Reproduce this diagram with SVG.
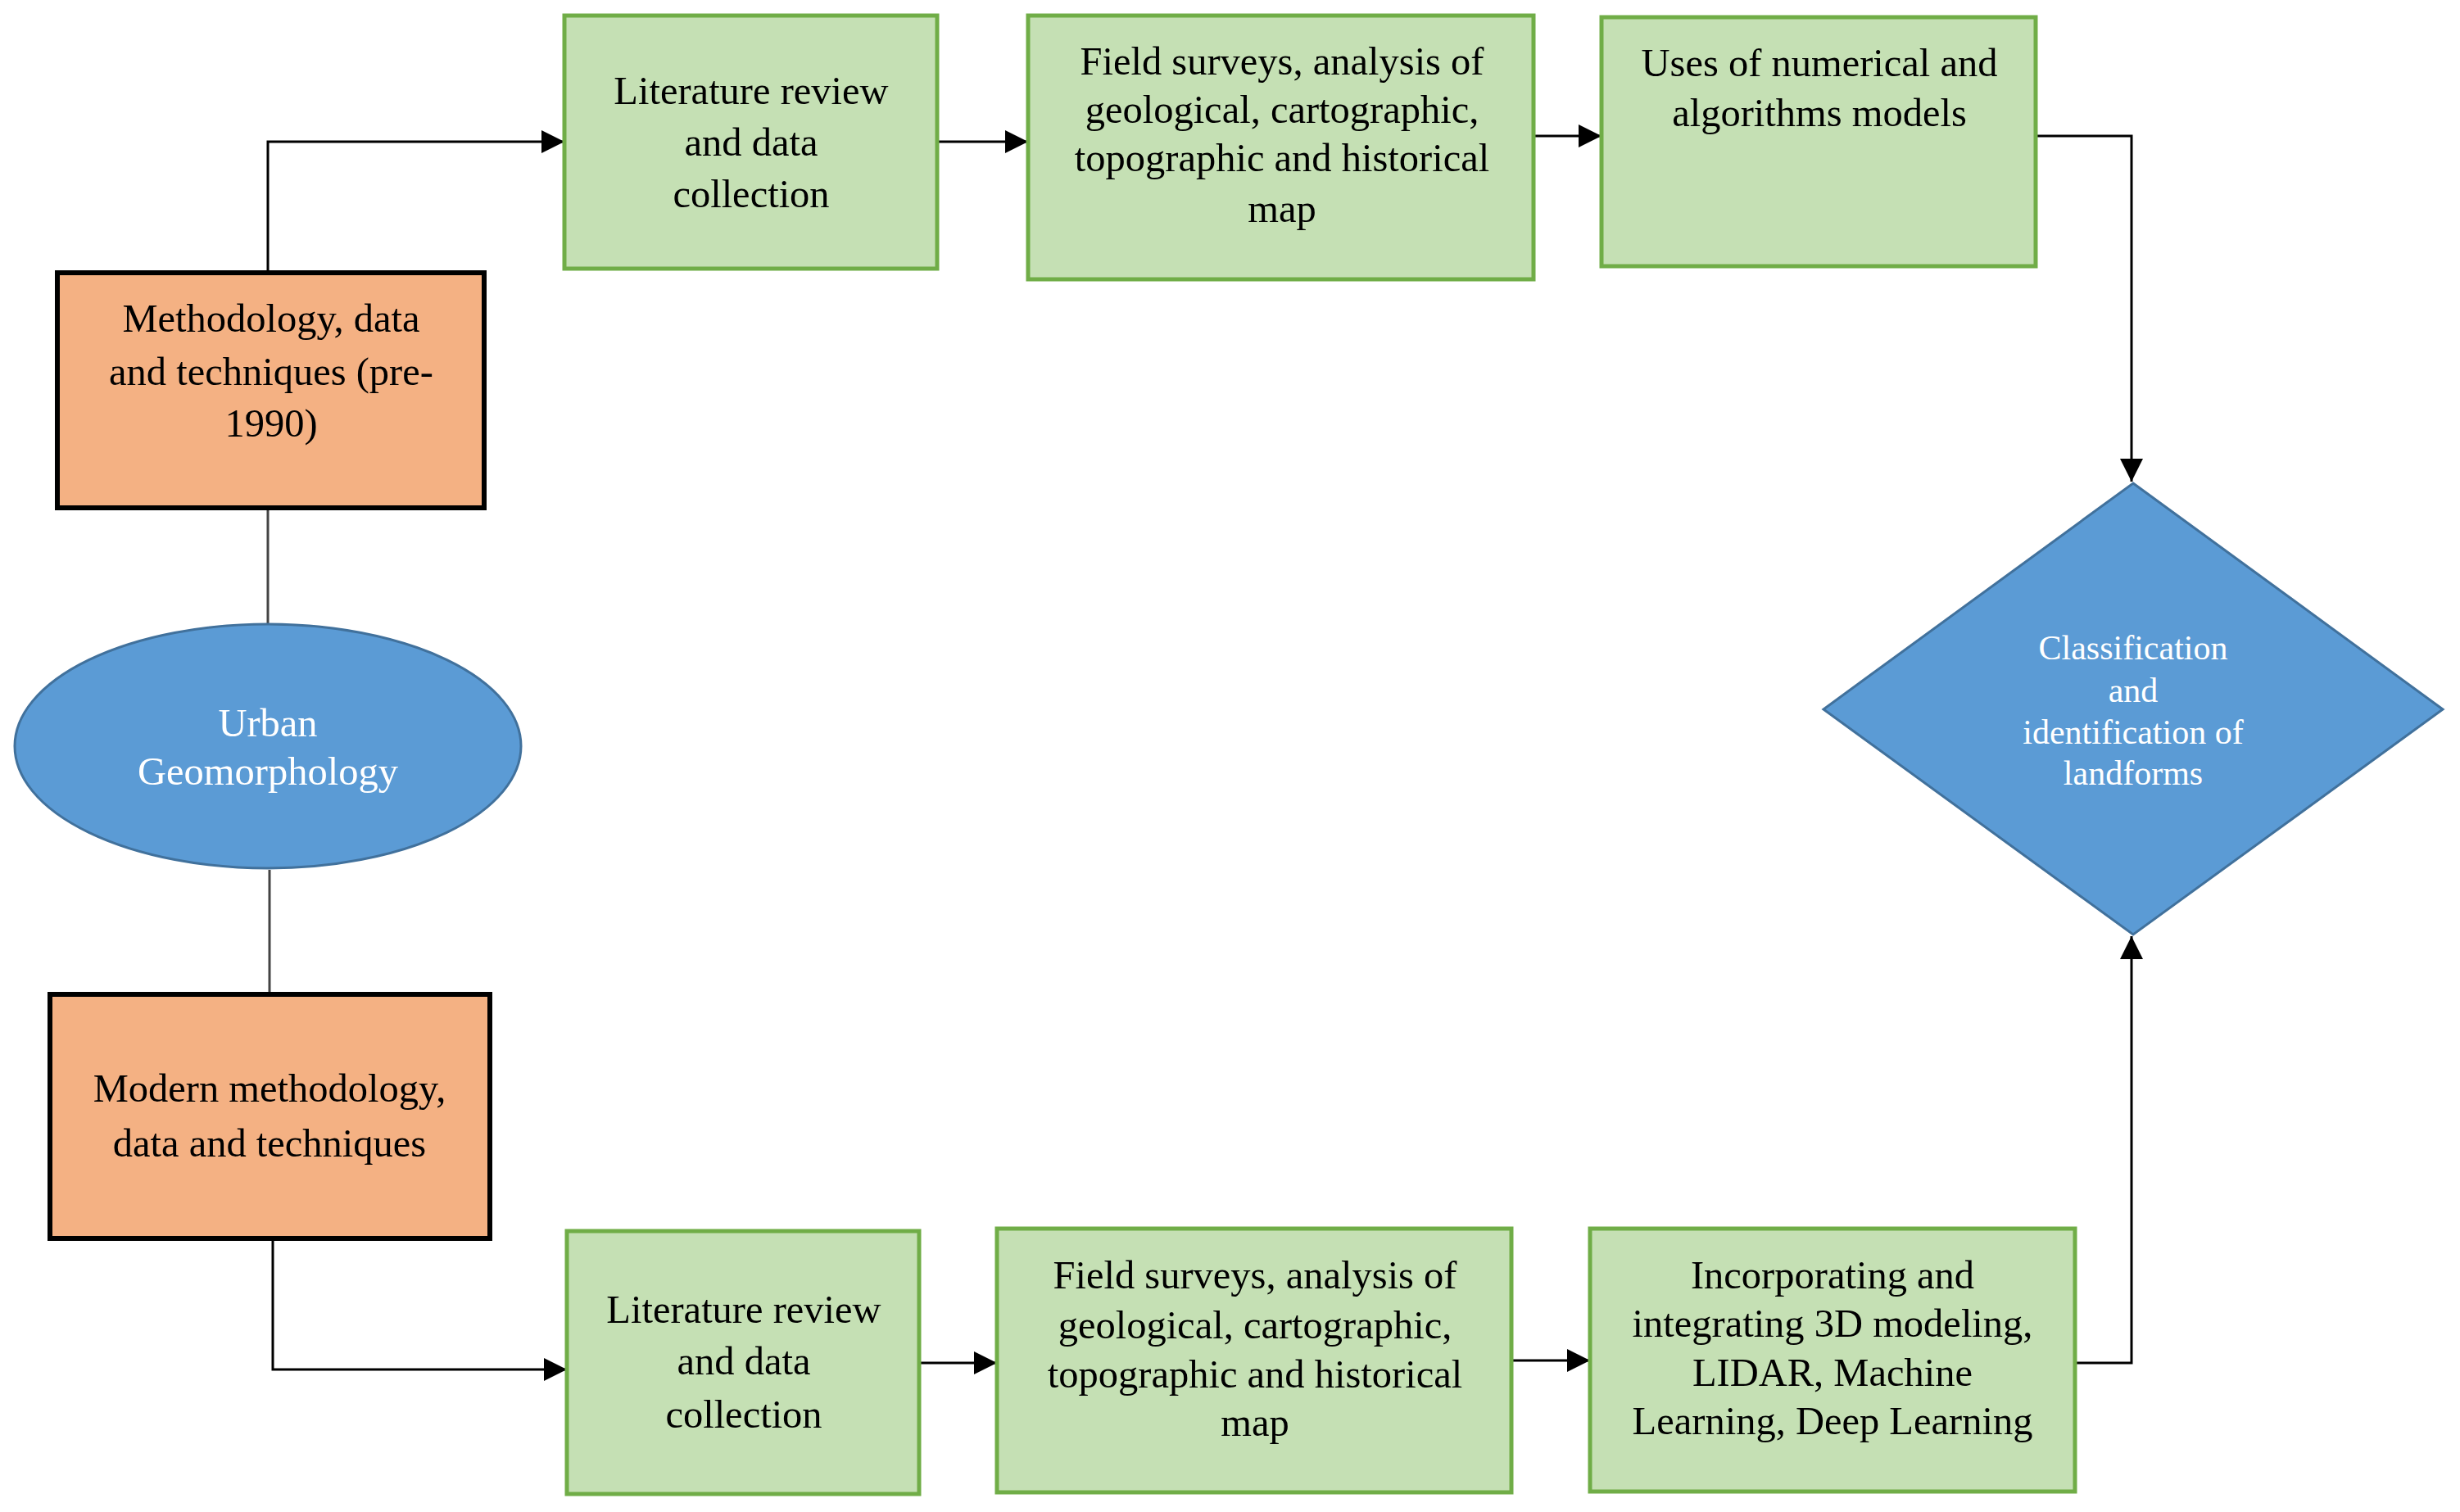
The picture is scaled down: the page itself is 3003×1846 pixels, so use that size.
<svg xmlns="http://www.w3.org/2000/svg" width="3003" height="1846" viewBox="0 0 3003 1846">
<style>
.g{fill:#C5E0B4;stroke:#70AD47;stroke-width:5}
.o{fill:#F4B183;stroke:#000;stroke-width:6}
.b{fill:#5B9BD5;stroke:#41719C;stroke-width:3}
.t{font-family:"Liberation Serif","Times New Roman",serif;font-size:48.5px;fill:#000;text-anchor:middle}
.w{fill:#fff}
.s{font-size:42px}
.c{fill:none;stroke:#000;stroke-width:3}
.l{fill:none;stroke:#444;stroke-width:3}
</style>
<defs>
<marker id="a" markerUnits="userSpaceOnUse" markerWidth="28" markerHeight="28" refX="28" refY="14" orient="auto"><path d="M0,0 L28,14 L0,28 z" fill="#000"/></marker>
</defs>
<rect width="3003" height="1846" fill="#fff"/>
<g id="connectors">
<path class="c" d="M327,333 V173 H689" marker-end="url(#a)"/>
<path class="c" d="M1144,173 H1255" marker-end="url(#a)"/>
<path class="c" d="M1872,166 H1955" marker-end="url(#a)"/>
<path class="c" d="M2485,166 H2602 V588" marker-end="url(#a)"/>
<path class="l" d="M327,620 V762"/>
<path class="l" d="M329,1062 V1214"/>
<path class="c" d="M333,1512 V1672 H692" marker-end="url(#a)"/>
<path class="c" d="M1122,1664 H1217" marker-end="url(#a)"/>
<path class="c" d="M1845,1661 H1941" marker-end="url(#a)"/>
<path class="c" d="M2533,1664 H2602 V1143" marker-end="url(#a)"/>
</g>
<g id="lit-top">
<rect class="g" x="689" y="19" width="455" height="309"/>
<text class="t" x="917" y="127">Literature review</text>
<text class="t" x="917" y="190">and data</text>
<text class="t" x="917" y="253">collection</text>
</g>
<g id="field-top">
<rect class="g" x="1255" y="19" width="617" height="322"/>
<text class="t" x="1565" y="91">Field surveys, analysis of</text>
<text class="t" x="1565" y="150">geological, cartographic,</text>
<text class="t" x="1565" y="209">topographic and historical</text>
<text class="t" x="1565" y="271">map</text>
</g>
<g id="uses">
<rect class="g" x="1955" y="21" width="530" height="304"/>
<text class="t" x="2221" y="93">Uses of numerical and</text>
<text class="t" x="2221" y="154">algorithms models</text>
</g>
<g id="methodology">
<rect class="o" x="70" y="333" width="521" height="287"/>
<text class="t" x="331" y="405">Methodology, data</text>
<text class="t" x="331" y="470">and techniques (pre-</text>
<text class="t" x="331" y="533">1990)</text>
</g>
<g id="urban">
<ellipse class="b" cx="327" cy="911" rx="309" ry="149"/>
<text class="t w" x="327" y="899">Urban</text>
<text class="t w" x="327" y="958">Geomorphology</text>
</g>
<g id="classification">
<polygon class="b" points="2604,590 2982,866 2604,1141 2226,866"/>
<text class="t w s" x="2604" y="805">Classification</text>
<text class="t w s" x="2604" y="857">and</text>
<text class="t w s" x="2604" y="908">identification of</text>
<text class="t w s" x="2604" y="958">landforms</text>
</g>
<g id="modern">
<rect class="o" x="61" y="1214" width="537" height="298"/>
<text class="t" x="329" y="1345">Modern methodology,</text>
<text class="t" x="329" y="1412">data and techniques</text>
</g>
<g id="lit-bottom">
<rect class="g" x="692" y="1503" width="430" height="321"/>
<text class="t" x="908" y="1615">Literature review</text>
<text class="t" x="908" y="1678">and data</text>
<text class="t" x="908" y="1743">collection</text>
</g>
<g id="field-bottom">
<rect class="g" x="1217" y="1500" width="628" height="322"/>
<text class="t" x="1532" y="1573">Field surveys, analysis of</text>
<text class="t" x="1532" y="1634">geological, cartographic,</text>
<text class="t" x="1532" y="1694">topographic and historical</text>
<text class="t" x="1532" y="1753">map</text>
</g>
<g id="incorporating">
<rect class="g" x="1941" y="1500" width="592" height="321"/>
<text class="t" x="2237" y="1573">Incorporating and</text>
<text class="t" x="2237" y="1632">integrating 3D modeling,</text>
<text class="t" x="2237" y="1692">LIDAR, Machine</text>
<text class="t" x="2237" y="1751">Learning, Deep Learning</text>
</g>
</svg>
